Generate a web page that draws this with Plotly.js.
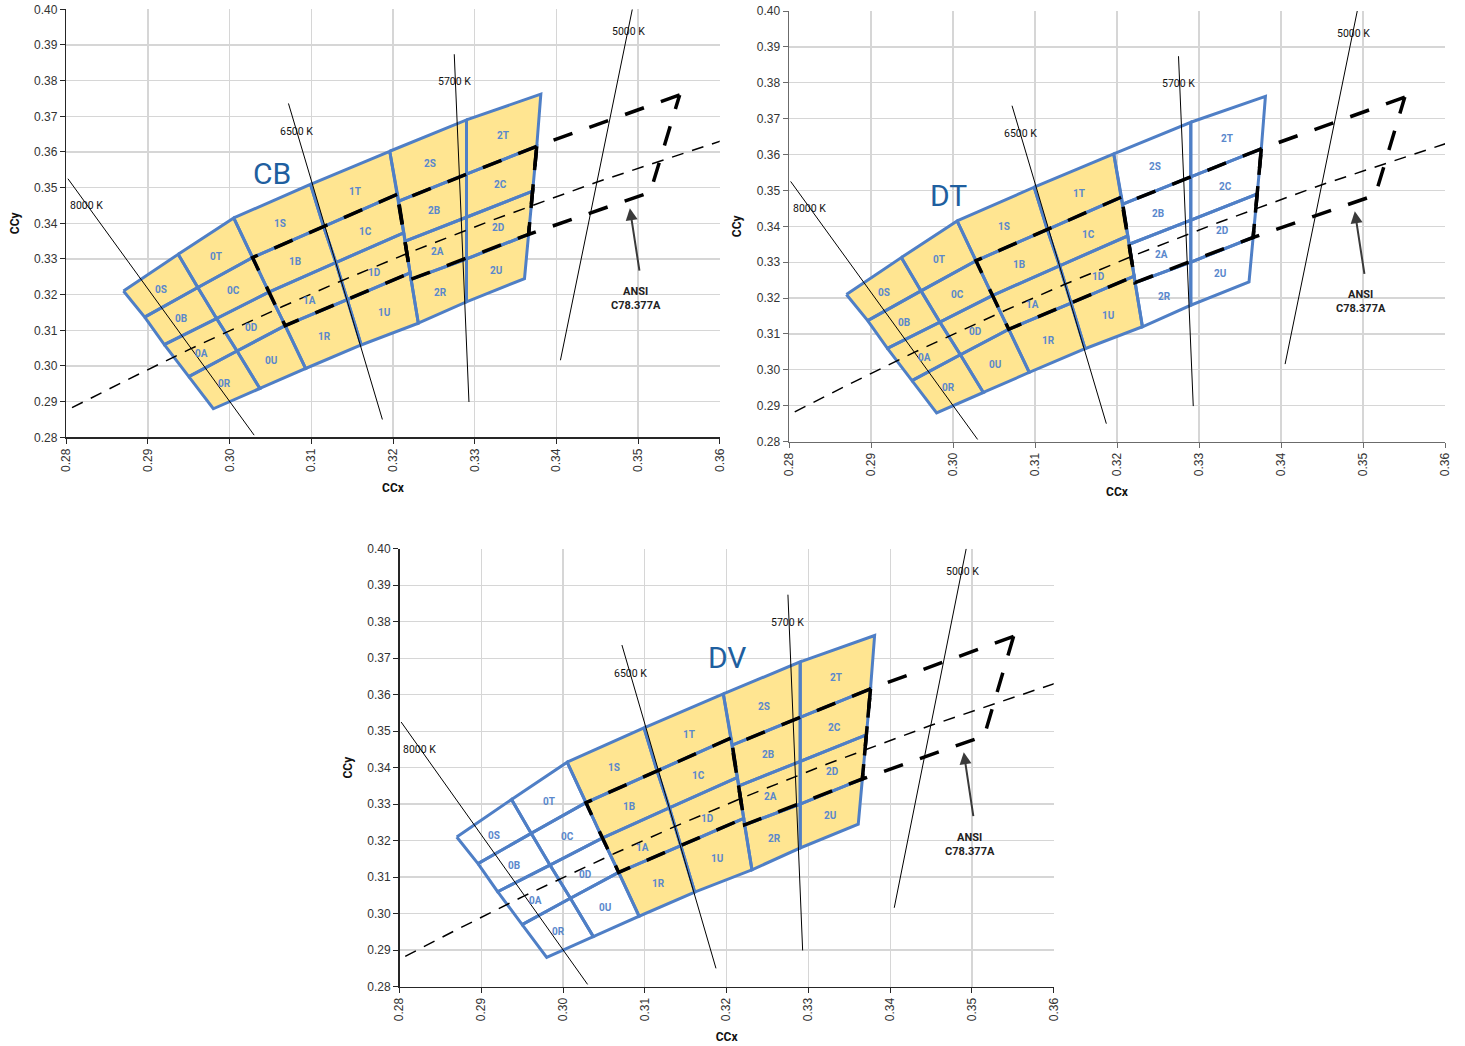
<!DOCTYPE html>
<html>
<head>
<meta charset="utf-8">
<script src="https://cdn.plot.ly/plotly-3.0.1.min.js"></script>
<style>
html,body{margin:0;padding:0;background:#fff;}
#chart{width:1465px;height:1046px;}
</style>
</head>
<body>
<div id="chart"></div>
<script>
// ---------------- DATA ----------------
const binNames = ['0S','0T','0B','0C','0A','0D','0R','0U',
                  '1S','1T','1B','1C','1A','1D','1R','1U',
                  '2S','2T','2B','2C','2A','2D','2R','2U'];
const binX = [
  [0.2870,0.2937,0.2961,0.2896], // 0S
  [0.2937,0.3005,0.3028,0.2961], // 0T
  [0.2896,0.2961,0.2984,0.2920], // 0B
  [0.2961,0.3028,0.3048,0.2984], // 0C
  [0.2920,0.2984,0.3009,0.2950], // 0A
  [0.2984,0.3048,0.3068,0.3009], // 0D
  [0.2950,0.3009,0.3037,0.2980], // 0R
  [0.3009,0.3068,0.3093,0.3037], // 0U
  [0.3005,0.3099,0.3115,0.3028], // 1S
  [0.3099,0.3196,0.3205,0.3115], // 1T
  [0.3028,0.3115,0.3130,0.3048], // 1B
  [0.3115,0.3205,0.3213,0.3130], // 1C
  [0.3048,0.3130,0.3144,0.3068], // 1A
  [0.3130,0.3213,0.3221,0.3144], // 1D
  [0.3068,0.3144,0.3161,0.3093], // 1R
  [0.3144,0.3221,0.3231,0.3161], // 1U
  [0.3196,0.3290,0.3290,0.3207], // 2S
  [0.3290,0.3381,0.3376,0.3290], // 2T
  [0.3207,0.3290,0.3290,0.3215], // 2B
  [0.3290,0.3376,0.3371,0.3290], // 2C
  [0.3215,0.3290,0.3290,0.3222], // 2A
  [0.3290,0.3371,0.3366,0.3290], // 2D
  [0.3222,0.3290,0.3290,0.3231], // 2R
  [0.3290,0.3366,0.3361,0.3290]  // 2U
];
const binY = [
  [0.3210,0.3313,0.3220,0.3137], // 0S
  [0.3313,0.3415,0.3304,0.3220], // 0T
  [0.3137,0.3220,0.3133,0.3060], // 0B
  [0.3220,0.3304,0.3207,0.3133], // 0C
  [0.3060,0.3133,0.3042,0.2970], // 0A
  [0.3133,0.3207,0.3113,0.3042], // 0D
  [0.2970,0.3042,0.2937,0.2880], // 0R
  [0.3042,0.3113,0.2993,0.2937], // 0U
  [0.3415,0.3509,0.3391,0.3304], // 1S
  [0.3509,0.3602,0.3481,0.3391], // 1T
  [0.3304,0.3391,0.3290,0.3207], // 1B
  [0.3391,0.3481,0.3373,0.3290], // 1C
  [0.3207,0.3290,0.3186,0.3113], // 1A
  [0.3290,0.3373,0.3261,0.3186], // 1D
  [0.3113,0.3186,0.3059,0.2993], // 1R
  [0.3186,0.3261,0.3120,0.3059], // 1U
  [0.3602,0.3690,0.3538,0.3462], // 2S
  [0.3690,0.3762,0.3616,0.3538], // 2T
  [0.3462,0.3538,0.3417,0.3350], // 2B
  [0.3538,0.3616,0.3490,0.3417], // 2C
  [0.3350,0.3417,0.3300,0.3243], // 2A
  [0.3417,0.3490,0.3369,0.3300], // 2D
  [0.3243,0.3300,0.3180,0.3120], // 2R
  [0.3300,0.3369,0.3245,0.3180]  // 2U
];

// bins filled (yellow) in each chart
const chartNames = ['CB','DT','DV'];
const cbFilled = ['0S','0T','0B','0C','0A','0D','0R','0U','1S','1T','1B','1C','1A','1D','1R','1U','2S','2T','2B','2C','2A','2D','2R','2U'];
const dtFilled = ['0S','0T','0B','0C','0A','0D','0R','0U','1S','1T','1B','1C','1A','1D','1R','1U'];
const dvFilled = ['1S','1T','1B','1C','1A','1D','1R','1U','2S','2T','2B','2C','2A','2D','2R','2U'];

// ANSI C78.377A quadrangles (6500 K, 5700 K, 5000 K)
const ansiNames = ['6500 K','5700 K','5000 K'];
const ansiX = [
  [0.3205,0.3028,0.3068,0.3221],
  [0.3376,0.3207,0.3222,0.3366],
  [0.3551,0.3376,0.3366,0.3515]
];
const ansiY = [
  [0.3481,0.3304,0.3113,0.3261],
  [0.3616,0.3462,0.3243,0.3369],
  [0.3760,0.3616,0.3369,0.3487]
];

// Planckian locus (10000 K ... 4500 K)
const locusX = [0.2807,0.2870,0.2952,0.3064,0.3135,0.3220,0.3323,0.3450,0.3607];
const locusY = [0.2883,0.2956,0.3048,0.3166,0.3237,0.3318,0.3410,0.3516,0.3635];

// CCT isotherm lines
const isoNames = ['8000 K','6500 K','5700 K','5000 K'];
const isoX = [[0.2802,0.3030],[0.3072,0.3187],[0.3275,0.3293],[0.3493,0.3405]];
const isoY = [[0.3525,0.2806],[0.3736,0.2850],[0.3874,0.2899],[0.4000,0.3016]];
const isoLabelX = [0.2825,0.3082,0.3275,0.3488];
const isoLabelY = [0.3450,0.3658,0.3798,0.3938];

// axis ticks
const xRange = [0.28,0.36];
const yRange = [0.28,0.40];

// ---------------- STYLE ----------------
const YELLOW = '#FFE591';
const BLUE = '#4F7FC6';
const LABELBLUE = '#5A88CC';
const TITLEBLUE = '#1F5F9F';
const F = 'Roboto, Arial, sans-serif';
const TF = '"Liberation Sans", Arial, sans-serif';

const panels = [
  {name:'CB', filled:cbFilled, xa:'x',  ya:'y',  xd:[66.3,719.7], yd:[9.3,437.3], axc:'#262626', nameX:0.3052, nameY:0.3540},
  {name:'DT', filled:dtFilled, xa:'x2', ya:'y2', xd:[789,1445],   yd:[11,441.6],  axc:'#6b6b6b', nameX:0.2994, nameY:0.3487},
  {name:'DV', filled:dvFilled, xa:'x3', ya:'y3', xd:[399.5,1053.7], yd:[548.7,986.6], axc:'#262626', nameX:0.3200, nameY:0.3703}
];

const W = 1465, H = 1046;
const traces = [];
const annotations = [];
const layout = {
  width: W, height: H,
  margin: {l:0, r:0, t:0, b:0},
  paper_bgcolor: '#fff', plot_bgcolor: '#fff',
  showlegend: false,
  font: {family: F, color: '#333'},
  annotations: annotations
};

function closeRing(arr){ return arr.concat([arr[0]]); }

panels.forEach((p, pi) => {
  // filled bins (one trace, gaps between polygons)
  const fx = [], fy = [];
  binNames.forEach((n, i) => {
    if (p.filled.indexOf(n) >= 0) {
      fx.push(...closeRing(binX[i]), null);
      fy.push(...closeRing(binY[i]), null);
    }
  });
  traces.push({type:'scatter', mode:'lines', x:fx, y:fy, xaxis:p.xa, yaxis:p.ya,
    fill:'toself', fillcolor:YELLOW, line:{width:0, color:YELLOW}, hoverinfo:'skip'});
  // bin outlines
  const ox = [], oy = [];
  binNames.forEach((n, i) => {
    ox.push(...closeRing(binX[i]), null);
    oy.push(...closeRing(binY[i]), null);
  });
  traces.push({type:'scatter', mode:'lines', x:ox, y:oy, xaxis:p.xa, yaxis:p.ya,
    line:{width:3, color:BLUE}, hoverinfo:'skip'});
  // bin labels at bin centres
  binNames.forEach((n, i) => {
    const cx = binX[i].reduce((s,v)=>s+v,0)/binX[i].length;
    const cy = binY[i].reduce((s,v)=>s+v,0)/binY[i].length;
    const midRow = (n[1] === 'A' || n[1] === 'D') && n[0] !== '2';
    annotations.push({xref:p.xa, yref:p.ya, x:cx, y:cy, text:'<b>'+n+'</b>', showarrow:false,
      yshift: midRow ? -6 : -2, font:{family:F, size:10, color:LABELBLUE}});
  });
  // isotherm lines
  isoNames.forEach((n, i) => {
    traces.push({type:'scatter', mode:'lines', x:isoX[i], y:isoY[i], xaxis:p.xa, yaxis:p.ya,
      line:{width:1, color:'#000'}, hoverinfo:'skip'});
    annotations.push({xref:p.xa, yref:p.ya, x:isoLabelX[i], y:isoLabelY[i], text:n,
      showarrow:false, font:{family:F, size:10.5, color:'#111'}});
  });
  // Planckian locus
  traces.push({type:'scatter', mode:'lines', x:locusX, y:locusY, xaxis:p.xa, yaxis:p.ya,
    line:{width:1.5, color:'#000', dash:'12px,9px'}, hoverinfo:'skip'});
  // ANSI quadrangles
  ansiNames.forEach((n, i) => {
    traces.push({type:'scatter', mode:'lines', x:closeRing(ansiX[i]), y:closeRing(ansiY[i]),
      xaxis:p.xa, yaxis:p.ya, line:{width:3.5, color:'#000', dash:'20px,18px'}, hoverinfo:'skip'});
  });
  // chart name
  annotations.push({xref:p.xa, yref:p.ya, x:p.nameX, y:p.nameY, text:p.name, showarrow:false,
    font:{family:F, size:30, color:TITLEBLUE}});
  // ANSI arrow + label
  annotations.push({xref:p.xa, yref:p.ya, axref:p.xa, ayref:p.ya, x:0.3490, y:0.3442, ax:0.3502, ay:0.3263,
    text:'', showarrow:true, arrowhead:2, arrowsize:1.2, arrowwidth:2, arrowcolor:'#3a3a3a', standoff:0});
  annotations.push({xref:p.xa, yref:p.ya, x:0.3498, y:0.3190, text:'<b>ANSI</b><br><b>C78.377A</b>',
    showarrow:false, font:{family:F, size:11, color:'#222'}});

  // axes
  const sfx = pi === 0 ? '' : String(pi+1);
  layout['xaxis'+sfx] = {
    domain:[p.xd[0]/W, p.xd[1]/W], anchor:'y'+sfx, range:xRange,
    tick0:0.28, dtick:0.01, tickformat:'.2f', tickangle:-90,
    showgrid:true, gridcolor:'#d6d6d6', gridwidth:1.3, zeroline:false,
    showline:true, linecolor:p.axc, linewidth:1.5, mirror:false,
    ticks:'outside', ticklen:5, tickcolor:p.axc, tickwidth:1,
    tickfont:{family:TF, size:12, color:'#333'}, automargin:false, fixedrange:true,
    title:{text:'<b>CCx</b>', font:{family:F, size:12, color:'#111'}, standoff:12}
  };
  layout['yaxis'+sfx] = {
    domain:[1-p.yd[1]/H, 1-p.yd[0]/H], anchor:'x'+sfx, range:yRange,
    tick0:0.28, dtick:0.01, tickformat:'.2f',
    showgrid:true, gridcolor:'#d6d6d6', gridwidth:1.3, zeroline:false,
    showline:true, linecolor:p.axc, linewidth:1.5, mirror:false,
    ticks:'outside', ticklen:5, tickcolor:p.axc, tickwidth:1,
    tickfont:{family:TF, size:12, color:'#333'}, automargin:false, fixedrange:true,
    title:{text:'<b>CCy</b>', font:{family:F, size:12, color:'#111'}, standoff:12}
  };
});

Plotly.newPlot('chart', traces, layout, {staticPlot:true, displayModeBar:false});
</script>
</body>
</html>
